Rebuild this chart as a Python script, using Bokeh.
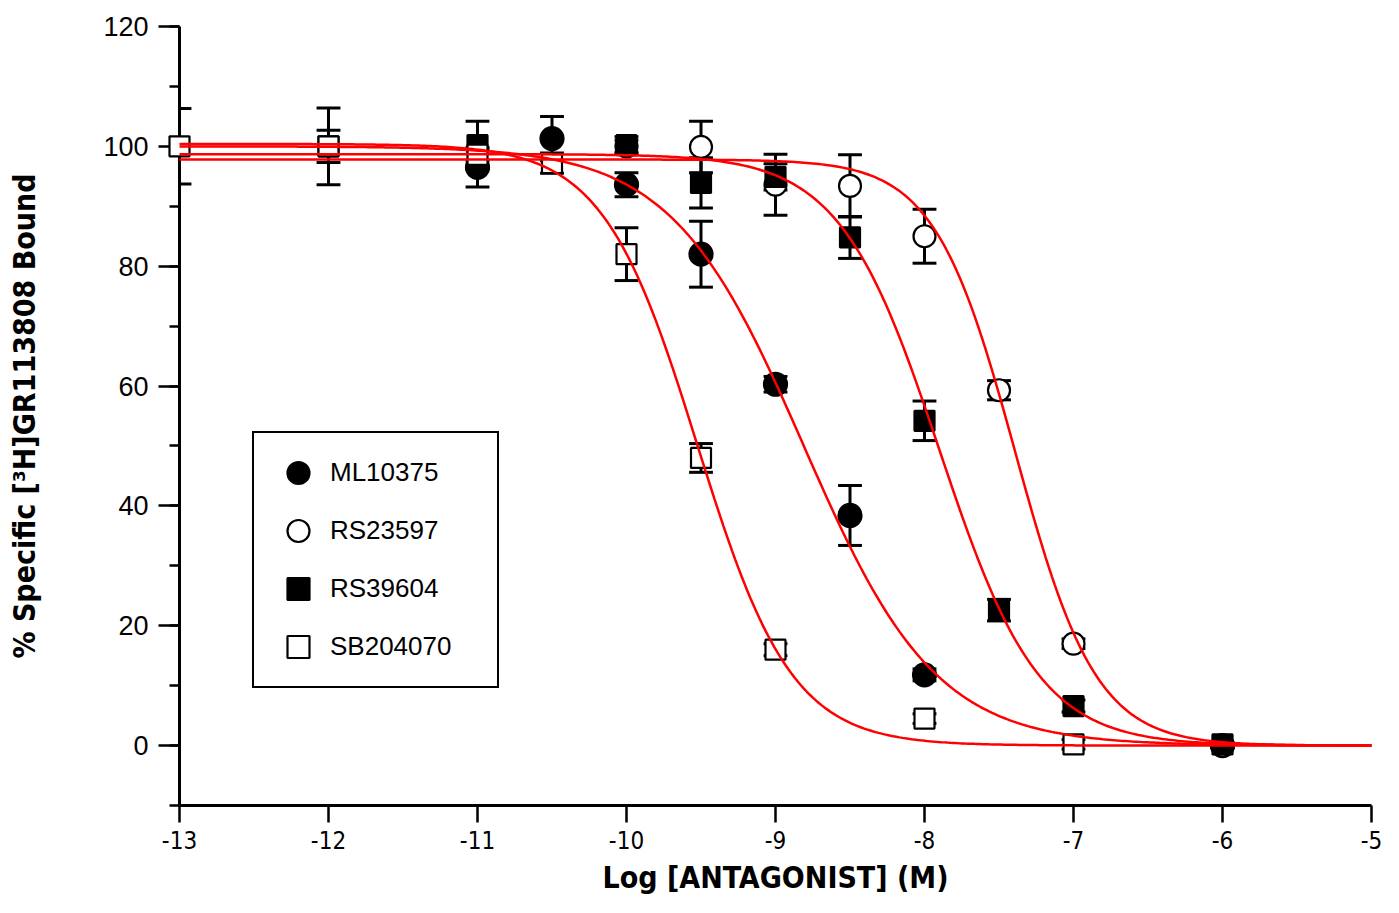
import numpy as np
from bokeh.plotting import figure
from bokeh.models import SingleIntervalTicker, FixedTicker, Legend, LegendItem, Range1d
from bokeh.embed import file_html
from bokeh.resources import INLINE

# ---- data ----
x_ticks = [-13, -12, -11, -10, -9, -8, -7, -6, -5]
x_tick_labels = ["-13", "-12", "-11", "-10", "-9", "-8", "-7", "-6", "-5"]

ml_x = [-11, -10.5, -10, -9.5, -9, -8.5, -8, -6]
ml_y = [96.5, 101.3, 93.6, 82.0, 60.3, 38.4, 11.8, 0.0]
ml_err = [3.3, 3.7, 2.0, 5.5, 1.3, 5.0, 1.0, 0.4]

rs235_x = [-10, -9.5, -9, -8.5, -8, -7.5, -7, -6]
rs235_y = [100.0, 99.9, 93.6, 93.4, 85.0, 59.3, 17.0, 0.0]
rs235_err = [1.0, 4.3, 5.1, 5.2, 4.5, 1.6, 0.8, 0.3]

rs396_x = [-12, -11, -10, -9.5, -9, -8.5, -8, -7.5, -7, -6]
rs396_y = [100.0, 100.2, 100.2, 93.9, 94.9, 84.8, 54.2, 22.6, 6.6, 0.2]
rs396_err = [2.7, 4.0, 1.4, 4.2, 2.2, 3.5, 3.3, 1.8, 1.0, 0.3]

sb_x = [-13, -12, -11, -10.5, -10, -9.5, -9, -8, -7]
sb_y = [100.0, 100.0, 98.6, 97.2, 82.0, 48.0, 16.0, 4.5, 0.2]
sb_err = [6.3, 6.4, 1.0, 1.7, 4.4, 2.4, 1.0, 0.8, 0.8]

# fitted sigmoid parameters (top, logIC50, hill), bottom = 0
fit_top = {"ML10375": 100.0, "RS23597": 97.8, "RS39604": 98.7, "SB204070": 100.4}
fit_logic50 = {"ML10375": -8.81, "RS23597": -7.39, "RS39604": -7.90, "SB204070": -9.525}
fit_hill = {"ML10375": 0.98, "RS23597": 1.60, "RS39604": 1.30, "SB204070": 1.37}

NARROW = "DejaVu Sans Condensed"
REG = "Liberation Sans"

X_MIN, X_MAX = -13, -5

p = figure(width=1383, height=897, output_backend="svg", toolbar_location=None,
           x_range=Range1d(X_MIN, X_MAX), y_range=Range1d(-10, 120),
           min_border_left=179, min_border_right=12, min_border_top=26, min_border_bottom=91)
p.outline_line_color = None
p.xgrid.visible = False
p.ygrid.visible = False
p.background_fill_color = "white"

# axes
p.xaxis.ticker = FixedTicker(ticks=x_ticks)
p.xaxis.major_label_overrides = {t: l for t, l in zip(x_ticks, x_tick_labels)}
p.yaxis.ticker = SingleIntervalTicker(interval=20, num_minor_ticks=2)
for ax in (p.xaxis[0], p.yaxis[0]):
    ax.axis_line_width = 3
    ax.axis_line_color = "black"
    ax.major_tick_line_width = 2.5
    ax.major_tick_line_color = "black"
    ax.minor_tick_line_width = 2.5
    ax.minor_tick_line_color = "black"
    ax.major_tick_in = 0
    ax.minor_tick_in = 0
    ax.major_label_text_color = "black"
    ax.axis_label_text_color = "black"
    ax.axis_label_text_font_style = "bold"
    ax.axis_label_text_font = NARROW
    ax.axis_label_text_font_size = "30px"

p.xaxis.major_tick_out = 17
p.xaxis.minor_tick_out = 0
p.xaxis.minor_tick_line_color = None
p.xaxis.major_label_text_font = NARROW
p.xaxis.major_label_text_font_size = "24px"
p.xaxis.major_label_standoff = 8
p.xaxis.axis_label = "Log [ANTAGONIST] (M)"
p.xaxis.axis_label_standoff = 8

p.yaxis.major_tick_out = 21
p.yaxis.minor_tick_out = 10
p.yaxis.major_label_text_font = REG
p.yaxis.major_label_text_font_size = "27px"
p.yaxis.major_label_standoff = 10
p.yaxis.axis_label = "% Specific [\u00b3H]GR113808 Bound"
p.yaxis.axis_label_standoff = 58

series = [
    ("ML10375", ml_x, ml_y, ml_err, "circle", "black", 23),
    ("RS23597", rs235_x, rs235_y, rs235_err, "circle", "white", 22),
    ("RS39604", rs396_x, rs396_y, rs396_err, "square", "black", 20),
    ("SB204070", sb_x, sb_y, sb_err, "square", "white", 20),
]

cap = 0.08  # half cap width in x units
# error bars first (behind markers); caps clipped at the left axis
for name, xs, ys, es, m, fill, sz in series:
    xs = np.array(xs, float); ys = np.array(ys, float); es = np.array(es, float)
    xl = np.maximum(xs - cap, X_MIN)
    p.segment(xs, ys - es, xs, ys + es, line_color="black", line_width=3)
    p.segment(xl, ys + es, xs + cap, ys + es, line_color="black", line_width=3)
    p.segment(xl, ys - es, xs + cap, ys - es, line_color="black", line_width=3)

items = []
for name, xs, ys, es, m, fill, sz in series:
    r = p.scatter(xs, ys, marker=m, size=sz, fill_color=fill, line_color="black",
                  line_width=2.2, level="overlay")
    items.append(LegendItem(label=name, renderers=[r]))

# fitted curves on top
xc = np.linspace(X_MIN, X_MAX, 400)
for name in ["SB204070", "ML10375", "RS39604", "RS23597"]:
    yc = fit_top[name] / (1 + 10 ** ((xc - fit_logic50[name]) * fit_hill[name]))
    p.line(xc, yc, line_color="#ff0000", line_width=2.5, level="overlay")

legend = Legend(items=items, location=(73, 117), orientation="vertical",
                glyph_width=64, glyph_height=55, spacing=3, padding=12,
                label_standoff=0, label_width=155,
                label_text_font=REG, label_text_font_size="26px",
                label_text_color="black",
                border_line_color="black", border_line_width=2, border_line_alpha=1.0,
                background_fill_color="white", background_fill_alpha=1.0)
p.add_layout(legend, "center")

open("out.html", "w").write(file_html(p, INLINE))
